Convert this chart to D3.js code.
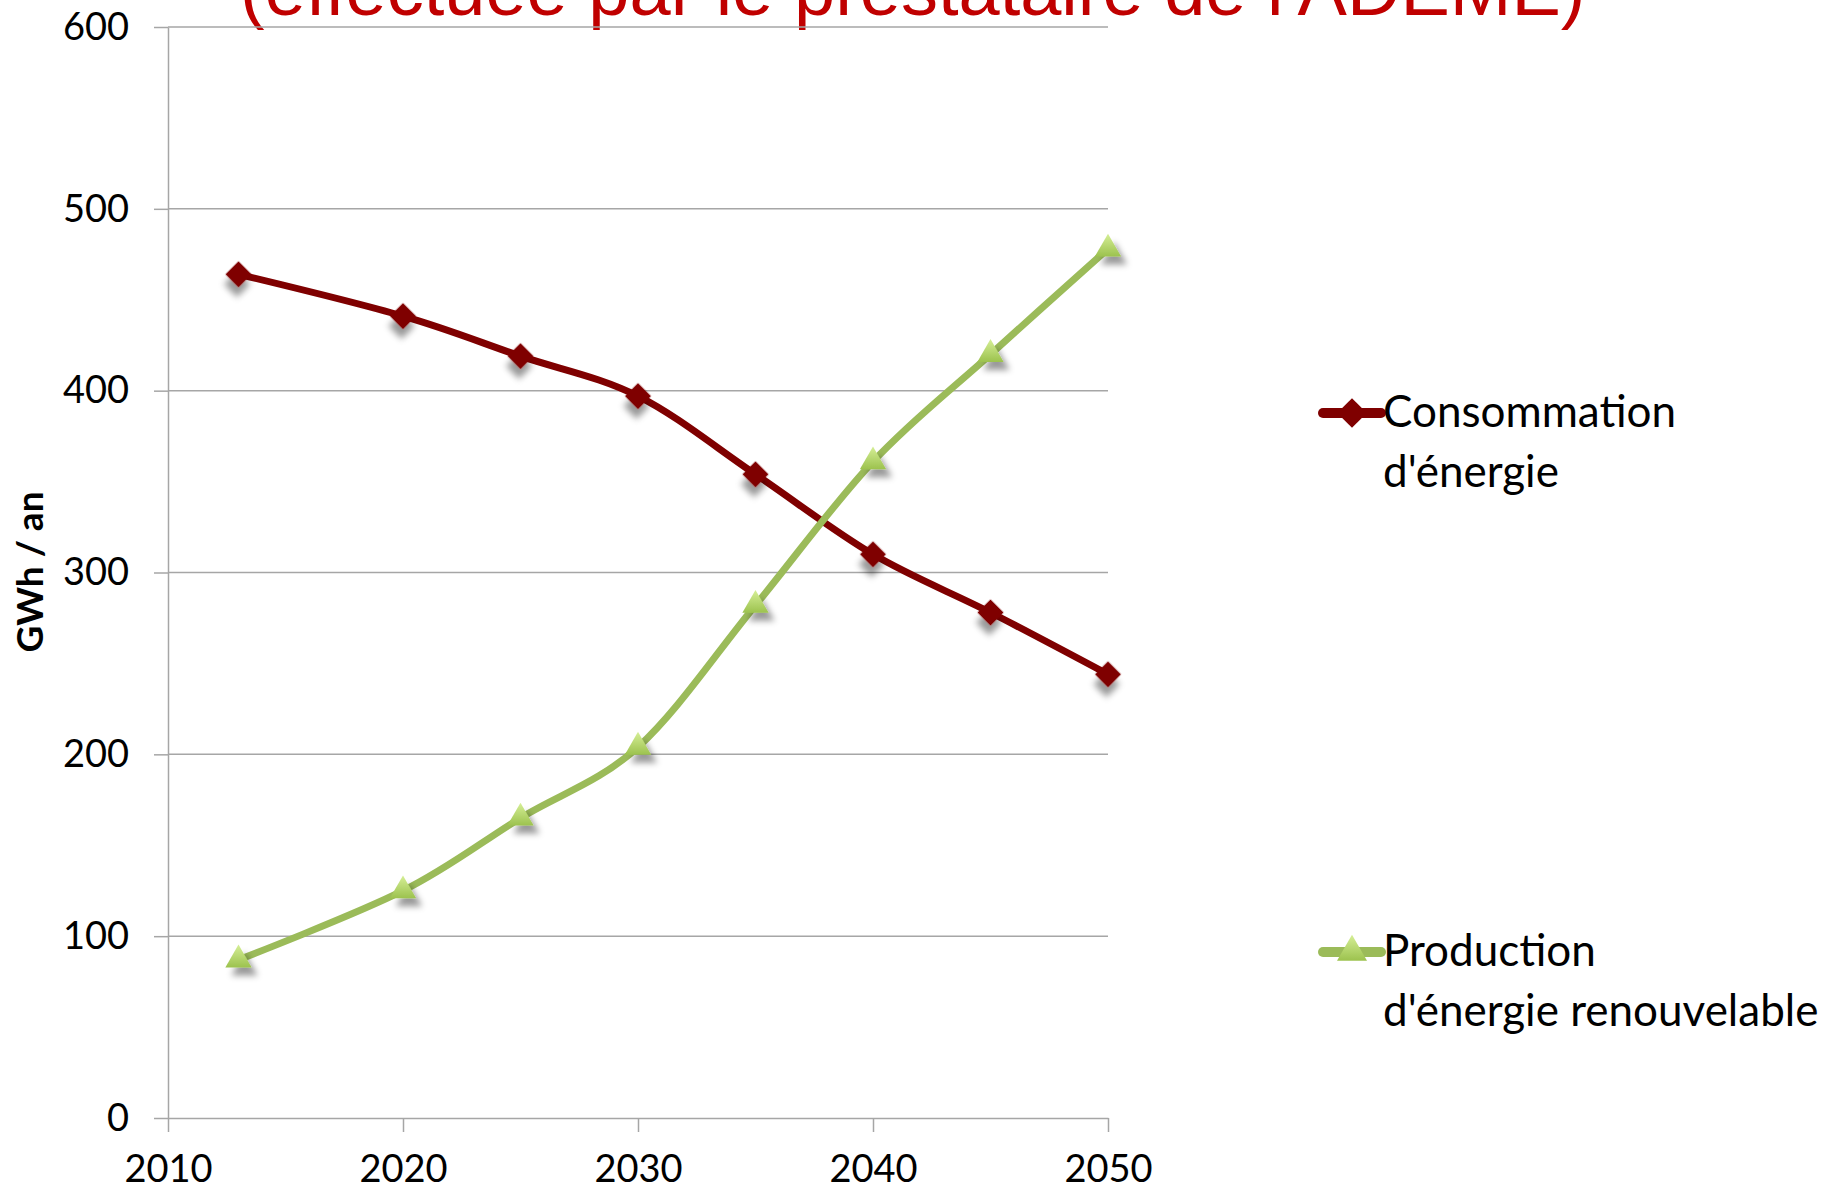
<!DOCTYPE html>
<html>
<head>
<meta charset="utf-8">
<script src="https://cdn.jsdelivr.net/npm/d3@7"></script>
<style>
  body { margin: 0; background: #fff; }
  svg { display: block; font-family: Lato, "Open Sans", sans-serif; }
</style>
</head>
<body>
<script>
const years = [2013, 2020, 2025, 2030, 2035, 2040, 2045, 2050];
const consommation = [464, 441, 419, 397, 354, 310, 278, 244];
const production = [87, 125, 165, 204, 282, 361, 420, 478];
const xTicks = [2010, 2020, 2030, 2040, 2050];
const yTicks = [0, 100, 200, 300, 400, 500, 600];
const seriesNames = [["Consommation", "d'énergie"], ["Production", "d'énergie renouvelable"]];

const width = 1835, height = 1190;
const margin = {top: 27, right: 727, bottom: 72, left: 168};

const svg = d3.select(document.body).append('svg')
  .attr('width', width)
  .attr('height', height);

const defs = svg.append('defs');
const shadow = defs.append('filter').attr('id', 'shadow')
  .attr('x', '-50%').attr('y', '-50%').attr('width', '250%').attr('height', '250%');
shadow.append('feDropShadow')
  .attr('dx', 6).attr('dy', 8).attr('stdDeviation', 3)
  .attr('flood-color', '#000').attr('flood-opacity', 0.4);

const grad = defs.append('linearGradient').attr('id', 'triGrad')
  .attr('x1', 0).attr('y1', 0).attr('x2', 0).attr('y2', 1);
grad.append('stop').attr('offset', '0%').attr('stop-color', '#d6ef97');
grad.append('stop').attr('offset', '100%').attr('stop-color', '#9cc24e');

const x = d3.scaleLinear()
  .domain([2010, 2050])
  .range([margin.left, width - margin.right]);
const y = d3.scaleLinear()
  .domain([0, 600])
  .range([height - margin.bottom, margin.top]);

// title, cut off by the top of the picture
svg.append('text')
  .attr('x', 240)
  .attr('y', 15)
  .attr('font-family', '"Liberation Sans", Arial, sans-serif')
  .attr('font-size', 74)
  .attr('fill', '#c00000')
  .text("(effectuée par le prestataire de l'ADEME)");

// gridlines
svg.append('g')
  .selectAll('line')
  .data(yTicks.slice(1))
  .enter().append('line')
  .attr('x1', margin.left)
  .attr('x2', width - margin.right)
  .attr('y1', d => y(d))
  .attr('y2', d => y(d))
  .attr('stroke', '#a6a6a6')
  .attr('stroke-width', 1.5);

const yAxis = svg.append('g')
  .attr('transform', `translate(${margin.left},0)`)
  .call(d3.axisLeft(y).tickValues(yTicks).tickSize(14).tickPadding(25).tickSizeOuter(0));
yAxis.selectAll('text').attr('font-size', 38).attr('fill', '#000').attr('font-family', 'Lato, sans-serif');

const xAxis = svg.append('g')
  .attr('transform', `translate(0,${y(0)})`)
  .call(d3.axisBottom(x).tickValues(xTicks).tickFormat(d3.format('d')).tickSize(14).tickSizeOuter(0));
xAxis.selectAll('text')
  .attr('font-size', 38).attr('fill', '#000').attr('font-family', 'Lato, sans-serif')
  .attr('y', 64).attr('dy', 0);

svg.selectAll('.domain, .tick line')
  .attr('stroke', '#a6a6a6')
  .attr('stroke-width', 1.5);

svg.append('text')
  .attr('transform', `translate(43,572) rotate(-90)`)
  .attr('text-anchor', 'middle')
  .attr('font-size', 37)
  .attr('font-weight', 'bold')
  .text('GWh / an');

const line = d3.line()
  .x(d => x(d.year))
  .y(d => y(d.value))
  .curve(d3.curveCardinal.tension(0));

const series = [
  {values: consommation, color: '#7f0000', symbol: d3.symbolSquare, size: 340, rotate: 45, fill: '#7f0000'},
  {values: production, color: '#9bbb59', symbol: d3.symbolTriangle, size: 300, rotate: 0, fill: 'url(#triGrad)'}
];

series.forEach((s, i) => {
  const pts = years.map((yr, j) => ({year: yr, value: s.values[j]}));
  const g = svg.append('g');

  g.append('path')
    .datum(pts)
    .attr('fill', 'none')
    .attr('stroke', s.color)
    .attr('stroke-width', 7)
    .attr('stroke-linejoin', 'round')
    .attr('d', line);

  g.selectAll('path.marker')
    .data(pts)
    .enter().append('path')
    .attr('class', 'marker')
    .attr('transform', d => `translate(${x(d.year)},${y(d.value)}) rotate(${s.rotate})`)
    .attr('d', d3.symbol(s.symbol, s.size))
    .attr('fill', s.fill)
    .attr('filter', 'url(#shadow)');
});

// legend
const legendY = [413, 952];
series.forEach((s, i) => {
  const lg = svg.append('g').attr('transform', `translate(1321,${legendY[i]})`);
  lg.append('line')
    .attr('x1', 2).attr('x2', 60)
    .attr('stroke', s.color)
    .attr('stroke-width', 10)
    .attr('stroke-linecap', 'round');
  lg.append('path')
    .attr('transform', `translate(31,0) rotate(${s.rotate})`)
    .attr('d', d3.symbol(s.symbol, s.size * 1.3))
    .attr('fill', s.fill);
  lg.append('text')
    .attr('font-size', 44)
    .selectAll('tspan')
    .data(seriesNames[i])
    .enter().append('tspan')
    .attr('x', 62)
    .attr('y', (d, k) => 14 + k * 60)
    .text(d => d);
});
</script>
</body>
</html>
